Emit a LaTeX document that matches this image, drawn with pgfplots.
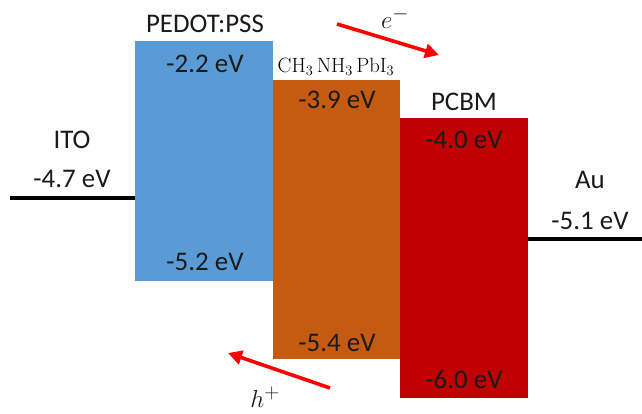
\documentclass[border=0pt]{standalone}
\usepackage{pgfplots}
\pgfplotsset{compat=1.18}
\usepackage[no-math]{fontspec}
\setmainfont{Carlito}
\usetikzlibrary{arrows.meta}
\definecolor{pedot}{HTML}{5B9BD5}
\definecolor{perov}{HTML}{C55A11}
\definecolor{pcbm}{HTML}{C00000}
\definecolor{carrier}{HTML}{FF0000}
\definecolor{txt}{HTML}{1A1A1A}
\tikzset{
  lbl/.style={font=\fontsize{27}{30}\selectfont, text=txt, inner sep=0pt},
  carrierarrow/.style={draw=carrier, line width=3.6bp,
    -{Triangle[length=14bp, width=14bp]}},
}
\begin{document}
\begin{tikzpicture}
\begin{axis}[
  width=642bp, height=414bp, scale only axis,
  xmin=0, xmax=642, ymin=-414, ymax=0,
  hide axis, clip=false,
]
% layers: PEDOT:PSS, CH3NH3PbI3, PCBM (schematic level positions)
\addplot[fill=pedot, draw=none] coordinates {(135,-41) (273,-41) (273,-281) (135,-281)} -- cycle;
\addplot[fill=perov, draw=none] coordinates {(273,-80) (400,-80) (400,-359) (273,-359)} -- cycle;
\addplot[fill=pcbm, draw=none] coordinates {(400,-118) (528,-118) (528,-398) (400,-398)} -- cycle;
% electrode work functions: ITO and Au
\addplot[black, line width=3.8bp] coordinates {(10,-198) (135,-198)};
\addplot[black, line width=3.8bp] coordinates {(528,-239) (642,-239)};
% carrier transport
\addplot[carrierarrow] coordinates {(337,-24) (439,-55)};
\addplot[carrierarrow] coordinates {(330,-388) (228,-353)};

\node[lbl] at (axis cs:205,-24) {PEDOT:PSS};
\node[lbl] at (axis cs:205,-64) {-2.2 eV};
\node[lbl] at (axis cs:205,-262) {-5.2 eV};
\node[lbl, font=\fontsize{21}{23}\selectfont, text=black] at (axis cs:336,-67) {$\mathrm{CH_3\,NH_3\,PbI_3}$};
\node[lbl] at (axis cs:337,-100) {-3.9 eV};
\node[lbl] at (axis cs:337,-343) {-5.4 eV};
\node[lbl] at (axis cs:464,-102) {PCBM};
\node[lbl] at (axis cs:464,-140) {-4.0 eV};
\node[lbl] at (axis cs:464,-380) {-6.0 eV};
\node[lbl] at (axis cs:72,-140) {ITO};
\node[lbl] at (axis cs:72,-179) {-4.7 eV};
\node[lbl] at (axis cs:590,-180) {Au};
\node[lbl] at (axis cs:590,-221) {-5.1 eV};
\node[lbl, font=\fontsize{30}{32}\selectfont] at (axis cs:395,-18) {$e^{-}$};
\node[lbl, font=\fontsize{30}{32}\selectfont] at (axis cs:265,-397) {$h^{+}$};
\coordinate (bl) at (axis cs:0,-414);
\coordinate (tr) at (axis cs:642,0);
\end{axis}
\pgfresetboundingbox
\useasboundingbox (bl) rectangle (tr);
\end{tikzpicture}
\end{document}
